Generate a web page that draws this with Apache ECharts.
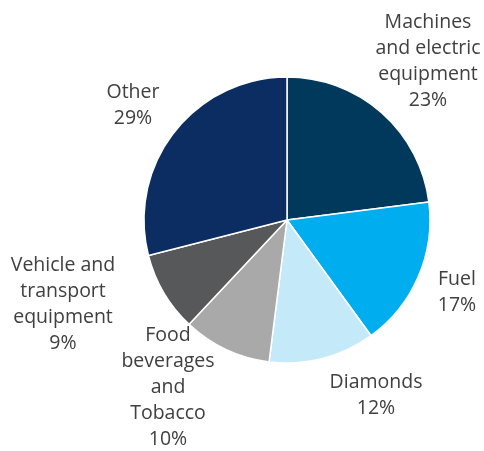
<!DOCTYPE html>
<html>
<head>
<meta charset="utf-8">
<script src="https://cdn.jsdelivr.net/npm/echarts@6/dist/echarts.min.js"></script>
<style>
  html, body { margin: 0; padding: 0; background: #fff; }
  #chart { width: 484px; height: 451px; }
</style>
</head>
<body>
<div id="chart"></div>
<script>
// Export structure by product group, share in percent
const categories = [
  'Machines\nand electric\nequipment',
  'Fuel',
  'Diamonds',
  'Food\nbeverages\nand\nTobacco',
  'Vehicle and\ntransport\nequipment',
  'Other'
];
const shares = [23, 17, 12, 10, 9, 29];
const sliceColors = ['#00395b', '#00aeef', '#c4eaf9', '#a9a9a9', '#57585a', '#0c2d62'];

// Label block centres around the pie
const labelSpots = [
  [428, 61], [457, 292], [376, 395], [168, 387], [63, 304], [133, 105]
];

const chart = echarts.init(document.getElementById('chart'), null, { renderer: 'canvas' });

chart.setOption({
  animation: false,
  series: [{
    type: 'pie',
    center: [287, 220],
    radius: 143,
    startAngle: 90,
    clockwise: true,
    avoidLabelOverlap: false,
    minShowLabelAngle: 0,
    data: categories.map((name, i) => ({
      name: name,
      value: shares[i],
      itemStyle: { color: sliceColors[i] }
    })),
    itemStyle: { borderColor: '#ffffff', borderWidth: 1.5 },
    label: {
      show: true,
      position: 'outside',
      formatter: p => p.name + '\n' + p.value + '%',
      color: '#404040',
      fontFamily: 'Open Sans',
      fontSize: 19.5,
      lineHeight: 26,
      align: 'center',
      overflow: 'none'
    },
    labelLine: { show: false },
    labelLayout: params => ({
      x: labelSpots[params.dataIndex][0],
      y: labelSpots[params.dataIndex][1],
      align: 'center',
      verticalAlign: 'middle',
      hideOverlap: false
    }),
    emphasis: { disabled: true }
  }]
});
</script>
</body>
</html>
